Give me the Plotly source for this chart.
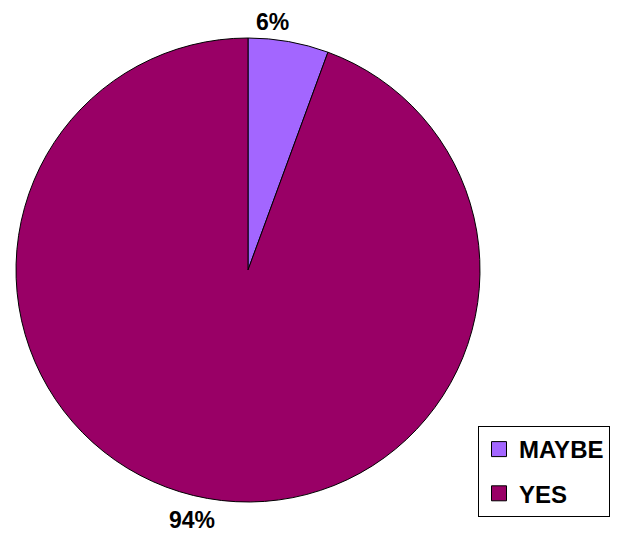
import plotly.graph_objects as go

categories = ["MAYBE", "YES"]
values = [5.6, 94.4]
pct_labels = ["6%", "94%"]
colors = ["#A366FF", "#990066"]
label_pos = [(264, 0), (184, 512)]  # pixel positions of the percentage labels (figure coords)
label_anchor = ["top", "middle"]

FONT = "Liberation Sans, Arial, sans-serif"
W, H = 620, 538

fig = go.Figure()
fig.add_trace(go.Pie(
    labels=categories,
    values=values,
    textinfo="none",
    sort=False,
    direction="clockwise",
    rotation=0,
    marker=dict(colors=colors, line=dict(color="#000000", width=1)),
    domain=dict(x=[8/W, 472/W], y=[44/H, 508/H]),
    showlegend=False,
    hoverinfo="label+percent",
))

# legend entries (square swatches)
for cat, col in zip(categories, colors):
    fig.add_trace(go.Scatter(
        x=[None], y=[None], mode="markers", name=cat,
        legendgroup=cat,
        marker=dict(symbol="square", size=15, color=col,
                    line=dict(color="#000000", width=1)),
    ))

for txt, (px, py), ya in zip(pct_labels, label_pos, label_anchor):
    fig.add_annotation(
        x=px / W, y=1 - py / H, xref="paper", yref="paper",
        text=txt, showarrow=False, xanchor="center", yanchor=ya,
        borderpad=0,
        font=dict(family=FONT, size=23, color="#000000", weight="bold"),
    )

fig.update_layout(
    width=W, height=H,
    margin=dict(l=0, r=0, t=0, b=0),
    paper_bgcolor="white",
    plot_bgcolor="white",
    xaxis=dict(visible=False),
    yaxis=dict(visible=False),
    showlegend=True,
    legend=dict(
        x=470/W, y=29/H, xanchor="left", yanchor="bottom",
        bgcolor="white", bordercolor="#000000", borderwidth=1,
        font=dict(family=FONT, size=24, color="#000000", weight="bold"),
        itemwidth=30, tracegroupgap=10, traceorder="grouped",
    ),
    font=dict(family=FONT, weight="bold"),
)

fig.write_html("out.html")
